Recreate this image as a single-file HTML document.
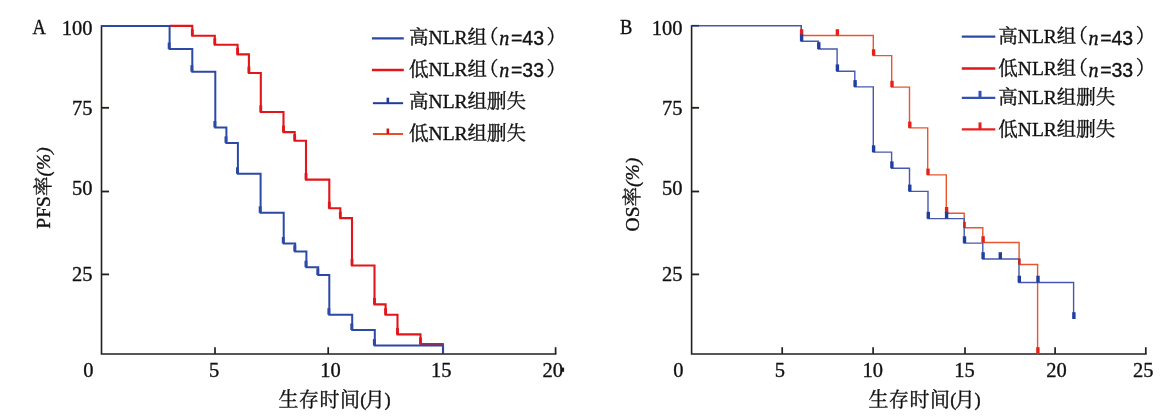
<!DOCTYPE html>
<html><head><meta charset="utf-8"><style>
html,body{margin:0;padding:0;background:#fff;width:1171px;height:417px;overflow:hidden}
svg{display:block}
text{stroke:#111;stroke-width:0.35px}
</style></head><body>
<svg width="1171" height="417" viewBox="0 0 1171 417">
<path d="M101.5,25.2 V354 H556.4" fill="none" stroke="#231f1c" stroke-width="1.6"/>
<line x1="101.5" y1="107.8" x2="109.00" y2="107.8" stroke="#231f1c" stroke-width="1.8"/>
<line x1="101.5" y1="191.5" x2="109.00" y2="191.5" stroke="#231f1c" stroke-width="1.8"/>
<line x1="101.5" y1="274.4" x2="109.00" y2="274.4" stroke="#231f1c" stroke-width="1.8"/>
<line x1="215" y1="347.2" x2="215" y2="354" stroke="#231f1c" stroke-width="1.7"/>
<line x1="328.2" y1="347.2" x2="328.2" y2="354" stroke="#231f1c" stroke-width="1.7"/>
<line x1="442.8" y1="347.2" x2="442.8" y2="354" stroke="#231f1c" stroke-width="1.7"/>
<line x1="555.6" y1="347.2" x2="555.6" y2="354" stroke="#231f1c" stroke-width="1.7"/>
<text x="92.6" y="35.1" text-anchor="end" font-family="'Liberation Serif', 'Noto Serif CJK SC', serif" font-size="20.5" fill="#111">100</text>
<text x="92.6" y="114.8" text-anchor="end" font-family="'Liberation Serif', 'Noto Serif CJK SC', serif" font-size="20.5" fill="#111">75</text>
<text x="92.6" y="195.0" text-anchor="end" font-family="'Liberation Serif', 'Noto Serif CJK SC', serif" font-size="20.5" fill="#111">50</text>
<text x="92.6" y="280.8" text-anchor="end" font-family="'Liberation Serif', 'Noto Serif CJK SC', serif" font-size="20.5" fill="#111">25</text>
<text x="88.4" y="376.6" text-anchor="middle" font-family="'Liberation Serif', 'Noto Serif CJK SC', serif" font-size="20.5" fill="#111">0</text>
<text x="214" y="376.6" text-anchor="middle" font-family="'Liberation Serif', 'Noto Serif CJK SC', serif" font-size="20.5" fill="#111">5</text>
<text x="330.6" y="376.6" text-anchor="middle" font-family="'Liberation Serif', 'Noto Serif CJK SC', serif" font-size="20.5" fill="#111">10</text>
<text x="441.2" y="376.6" text-anchor="middle" font-family="'Liberation Serif', 'Noto Serif CJK SC', serif" font-size="20.5" fill="#111">15</text>
<text x="552.7" y="376.6" text-anchor="middle" font-family="'Liberation Serif', 'Noto Serif CJK SC', serif" font-size="20.5" fill="#111">20</text>
<text transform="translate(32.4,34) scale(0.88,1)" font-family="'Liberation Serif', 'Noto Serif CJK SC', serif" font-size="21" fill="#111">A</text>
<path d="M169.6,25.9 H192.3 V35.7 H214.8 V44.7 H237.6 V54.4 H248.9 V73.0 H260.8 V112.0 H283.5 V132.1 H294.7 V140.7 H306.0 V179.6 H329.3 V208.2 H340.3 V218.1 H352.0 V265.5 H374.5 V304.4 H385.6 V314.7 H397.5 V334.4 H420.5 V344.0 H443.6" fill="none" stroke="#e2161a" stroke-width="2.1" stroke-linejoin="miter"/>
<rect x="190.90" y="29.20" width="2.8" height="6.5" fill="#e2161a"/>
<rect x="213.40" y="38.20" width="2.8" height="6.5" fill="#e2161a"/>
<rect x="236.20" y="47.90" width="2.8" height="6.5" fill="#e2161a"/>
<rect x="247.50" y="66.50" width="2.8" height="6.5" fill="#e2161a"/>
<rect x="259.40" y="105.50" width="2.8" height="6.5" fill="#e2161a"/>
<rect x="282.10" y="125.60" width="2.8" height="6.5" fill="#e2161a"/>
<rect x="293.30" y="134.20" width="2.8" height="6.5" fill="#e2161a"/>
<rect x="304.60" y="173.10" width="2.8" height="6.5" fill="#e2161a"/>
<rect x="327.90" y="201.70" width="2.8" height="6.5" fill="#e2161a"/>
<rect x="338.90" y="211.60" width="2.8" height="6.5" fill="#e2161a"/>
<rect x="350.60" y="259.00" width="2.8" height="6.5" fill="#e2161a"/>
<rect x="373.10" y="297.90" width="2.8" height="6.5" fill="#e2161a"/>
<rect x="384.20" y="308.20" width="2.8" height="6.5" fill="#e2161a"/>
<rect x="396.10" y="327.90" width="2.8" height="6.5" fill="#e2161a"/>
<rect x="419.10" y="337.50" width="2.8" height="6.5" fill="#e2161a"/>
<rect x="441.4" y="343" width="2.2" height="3.2" fill="#e2161a"/>
<path d="M101.5,25.9 H169.6 V49.0 H192.3 V71.7 H215.3 V127.5 H226.4 V142.9 H237.9 V173.8 H260.6 V212.8 H283.7 V243.5 H295.2 V251.6 H306.4 V267.2 H318.2 V275.0 H329.3 V314.7 H352.2 V330.0 H374.8 V345.6 H443.1 V353.5" fill="none" stroke="#2c49a6" stroke-width="2" stroke-linejoin="miter"/>
<rect x="167.70" y="42.50" width="2.9" height="6.5" fill="#2c49a6"/>
<rect x="190.40" y="65.20" width="2.9" height="6.5" fill="#2c49a6"/>
<rect x="213.40" y="121.00" width="2.9" height="6.5" fill="#2c49a6"/>
<rect x="224.50" y="136.40" width="2.9" height="6.5" fill="#2c49a6"/>
<rect x="236.00" y="167.30" width="2.9" height="6.5" fill="#2c49a6"/>
<rect x="258.70" y="206.30" width="2.9" height="6.5" fill="#2c49a6"/>
<rect x="281.80" y="237.00" width="2.9" height="6.5" fill="#2c49a6"/>
<rect x="293.30" y="245.10" width="2.9" height="6.5" fill="#2c49a6"/>
<rect x="304.50" y="260.70" width="2.9" height="6.5" fill="#2c49a6"/>
<rect x="316.30" y="268.50" width="2.9" height="6.5" fill="#2c49a6"/>
<rect x="327.40" y="308.20" width="2.9" height="6.5" fill="#2c49a6"/>
<rect x="350.30" y="323.50" width="2.9" height="6.5" fill="#2c49a6"/>
<rect x="372.90" y="339.10" width="2.9" height="6.5" fill="#2c49a6"/>
<rect x="561.8" y="367.6" width="2.3" height="4.2" fill="#1a1a1a"/>
<text transform="translate(49.8,188) rotate(-90)" text-anchor="middle" font-family="'Liberation Serif', 'Noto Serif CJK SC', serif" font-size="19.5" fill="#111">PFS率<tspan font-style="italic">(%)</tspan></text>
<text x="278.6" y="406.6" font-family="'Liberation Serif', 'Noto Serif CJK SC', serif" font-size="20" fill="#111"><tspan letter-spacing="0.5">生存时间</tspan><tspan font-size="18.5" dx="-0.3" dy="-0.3">(</tspan><tspan dx="-1.6" dy="0.3">月</tspan><tspan font-size="18.5" dx="-0.3" dy="-0.3">)</tspan></text>
<path d="M691.6,25.2 V354 H1146.6" fill="none" stroke="#231f1c" stroke-width="1.6"/>
<line x1="691.6" y1="107.8" x2="699.10" y2="107.8" stroke="#231f1c" stroke-width="1.8"/>
<line x1="691.6" y1="191.5" x2="699.10" y2="191.5" stroke="#231f1c" stroke-width="1.8"/>
<line x1="691.6" y1="274.4" x2="699.10" y2="274.4" stroke="#231f1c" stroke-width="1.8"/>
<line x1="782.2" y1="347.2" x2="782.2" y2="354" stroke="#231f1c" stroke-width="1.7"/>
<line x1="873.1" y1="347.2" x2="873.1" y2="354" stroke="#231f1c" stroke-width="1.7"/>
<line x1="965" y1="347.2" x2="965" y2="354" stroke="#231f1c" stroke-width="1.7"/>
<line x1="1055.1" y1="347.2" x2="1055.1" y2="354" stroke="#231f1c" stroke-width="1.7"/>
<line x1="1145.8" y1="347.2" x2="1145.8" y2="354" stroke="#231f1c" stroke-width="1.7"/>
<text x="682.6" y="35.1" text-anchor="end" font-family="'Liberation Serif', 'Noto Serif CJK SC', serif" font-size="20.5" fill="#111">100</text>
<text x="682.6" y="114.8" text-anchor="end" font-family="'Liberation Serif', 'Noto Serif CJK SC', serif" font-size="20.5" fill="#111">75</text>
<text x="682.6" y="195.0" text-anchor="end" font-family="'Liberation Serif', 'Noto Serif CJK SC', serif" font-size="20.5" fill="#111">50</text>
<text x="682.6" y="280.8" text-anchor="end" font-family="'Liberation Serif', 'Noto Serif CJK SC', serif" font-size="20.5" fill="#111">25</text>
<text x="678.3" y="376.6" text-anchor="middle" font-family="'Liberation Serif', 'Noto Serif CJK SC', serif" font-size="20.5" fill="#111">0</text>
<text x="779.9" y="376.6" text-anchor="middle" font-family="'Liberation Serif', 'Noto Serif CJK SC', serif" font-size="20.5" fill="#111">5</text>
<text x="872.8" y="376.6" text-anchor="middle" font-family="'Liberation Serif', 'Noto Serif CJK SC', serif" font-size="20.5" fill="#111">10</text>
<text x="964.5" y="376.6" text-anchor="middle" font-family="'Liberation Serif', 'Noto Serif CJK SC', serif" font-size="20.5" fill="#111">15</text>
<text x="1056.5" y="376.6" text-anchor="middle" font-family="'Liberation Serif', 'Noto Serif CJK SC', serif" font-size="20.5" fill="#111">20</text>
<text x="1143.2" y="376.6" text-anchor="middle" font-family="'Liberation Serif', 'Noto Serif CJK SC', serif" font-size="20.5" fill="#111">25</text>
<text transform="translate(620,34) scale(0.88,1)" font-family="'Liberation Serif', 'Noto Serif CJK SC', serif" font-size="21" fill="#111">B</text>
<path d="M801.3,35.5 H873.3 V55.6 H891.7 V87.1 H909.5 V127.9 H927.7 V174.9 H946.3 V213.3 H964.2 V227.8 H982.8 V242.5 H1019.1 V264.5 H1037.6 V353.5" fill="none" stroke="#e8552f" stroke-width="1.4"/>
<path d="M801.3,25.9 V35.5" fill="none" stroke="#e8552f" stroke-width="1.4"/>
<path d="M691.6,25.7 H801.3 V41.2 H818.5 V49.0 H837.1 V71.2 H854.8 V86.9 H873.3 V152.1 H891.6 V168.2 H909.5 V191.4 H928.0 V218.6 H964.2 V243.1 H982.8 V259.0 H1019.0 V282.5 H1073.6 V319.0" fill="none" stroke="#4858ad" stroke-width="1.4"/>
<path d="M691.6,25.7 H699" fill="none" stroke="#1a2a70" stroke-width="1.6"/>
<rect x="799.90" y="29.20" width="3.4" height="6.3" fill="#e6201a"/>
<rect x="835.70" y="29.20" width="3.4" height="6.3" fill="#e6201a"/>
<rect x="871.90" y="49.30" width="3.4" height="6.3" fill="#e6201a"/>
<rect x="890.30" y="80.80" width="3.4" height="6.3" fill="#e6201a"/>
<rect x="908.10" y="121.60" width="3.4" height="6.3" fill="#e6201a"/>
<rect x="926.30" y="168.60" width="3.4" height="6.3" fill="#e6201a"/>
<rect x="944.90" y="207.00" width="3.4" height="6.3" fill="#e6201a"/>
<rect x="963.20" y="221.80" width="2.6" height="6.0" fill="#c8281c"/>
<rect x="981.40" y="236.20" width="3.4" height="6.3" fill="#e6201a"/>
<rect x="1018.10" y="258.50" width="2.6" height="6.0" fill="#c8281c"/>
<rect x="1036.20" y="347.20" width="3.4" height="6.3" fill="#e6201a"/>
<rect x="799.90" y="34.40" width="3.4" height="6.8" fill="#1f3f9f"/>
<rect x="817.10" y="42.20" width="3.4" height="6.8" fill="#1f3f9f"/>
<rect x="835.70" y="64.40" width="3.4" height="6.8" fill="#1f3f9f"/>
<rect x="853.40" y="80.10" width="3.4" height="6.8" fill="#1f3f9f"/>
<rect x="871.90" y="145.30" width="3.4" height="6.8" fill="#1f3f9f"/>
<rect x="890.20" y="161.40" width="3.4" height="6.8" fill="#1f3f9f"/>
<rect x="908.10" y="184.60" width="3.4" height="6.8" fill="#1f3f9f"/>
<rect x="926.60" y="211.80" width="3.4" height="6.8" fill="#1f3f9f"/>
<rect x="944.90" y="211.80" width="3.4" height="6.8" fill="#1f3f9f"/>
<rect x="962.80" y="236.30" width="3.4" height="6.8" fill="#1f3f9f"/>
<rect x="981.40" y="252.20" width="3.4" height="6.8" fill="#1f3f9f"/>
<rect x="998.60" y="252.20" width="3.4" height="6.8" fill="#1f3f9f"/>
<rect x="1017.60" y="275.70" width="3.4" height="6.8" fill="#1f3f9f"/>
<rect x="1036.30" y="275.70" width="3.4" height="6.8" fill="#1f3f9f"/>
<rect x="1072.20" y="312.20" width="3.4" height="6.8" fill="#1f3f9f"/>
<text transform="translate(638.5,194.6) rotate(-90)" text-anchor="middle" font-family="'Liberation Serif', 'Noto Serif CJK SC', serif" font-size="19.5" fill="#111">OS率<tspan font-style="italic">(%)</tspan></text>
<text x="868.6" y="406.6" font-family="'Liberation Serif', 'Noto Serif CJK SC', serif" font-size="20" fill="#111"><tspan letter-spacing="0.5">生存时间</tspan><tspan font-size="18.5" dx="-0.3" dy="-0.3">(</tspan><tspan dx="-1.6" dy="0.3">月</tspan><tspan font-size="18.5" dx="-0.3" dy="-0.3">)</tspan></text>
<line x1="371.9" y1="38.3" x2="403.8" y2="38.3" stroke="#2c49a6" stroke-width="2.2"/>
<text x="409.1" y="43.5" font-family="'Liberation Serif', 'Noto Serif CJK SC', serif" font-size="19.5" fill="#111">高NLR组<tspan dx="-8">（</tspan><tspan font-style="italic" font-size="20" dx="0.7" dy="1.5">n</tspan><tspan font-family="'Liberation Sans', sans-serif" dx="1.6">=43</tspan><tspan dx="2.5" dy="-1.5">）</tspan></text>
<line x1="371.9" y1="70.0" x2="403.8" y2="70.0" stroke="#e2161a" stroke-width="2.4"/>
<text x="409.1" y="75.8" font-family="'Liberation Serif', 'Noto Serif CJK SC', serif" font-size="19.5" fill="#111">低NLR组<tspan dx="-8">（</tspan><tspan font-style="italic" font-size="20" dx="0.7" dy="1.5">n</tspan><tspan font-family="'Liberation Sans', sans-serif" dx="1.6">=33</tspan><tspan dx="2.5" dy="-1.5">）</tspan></text>
<line x1="372.9" y1="103.2" x2="403.1" y2="103.2" stroke="#1f3c98" stroke-width="2.0"/>
<line x1="387.85" y1="97.70" x2="387.85" y2="103.2" stroke="#1f3c98" stroke-width="2.6"/>
<text x="409.1" y="108.2" font-family="'Liberation Serif', 'Noto Serif CJK SC', serif" font-size="19.5" fill="#111">高NLR组删失</text>
<line x1="372.9" y1="134.0" x2="403.1" y2="134.0" stroke="#e8502c" stroke-width="2.0"/>
<line x1="387.85" y1="128.50" x2="387.85" y2="134.0" stroke="#e01010" stroke-width="2.6"/>
<text x="409.1" y="140.4" font-family="'Liberation Serif', 'Noto Serif CJK SC', serif" font-size="19.5" fill="#111">低NLR组删失</text>
<line x1="961.8" y1="36.6" x2="995.3" y2="36.6" stroke="#2c49a6" stroke-width="2.2"/>
<text x="998.3" y="43.0" font-family="'Liberation Serif', 'Noto Serif CJK SC', serif" font-size="19.5" fill="#111">高NLR组<tspan dx="-8">（</tspan><tspan font-style="italic" font-size="20" dx="0.7" dy="1.5">n</tspan><tspan font-family="'Liberation Sans', sans-serif" dx="1.6">=43</tspan><tspan dx="2.5" dy="-1.5">）</tspan></text>
<line x1="961.8" y1="68.5" x2="995.3" y2="68.5" stroke="#e2161a" stroke-width="2.4"/>
<text x="998.3" y="75.0" font-family="'Liberation Serif', 'Noto Serif CJK SC', serif" font-size="19.5" fill="#111">低NLR组<tspan dx="-8">（</tspan><tspan font-style="italic" font-size="20" dx="0.7" dy="1.5">n</tspan><tspan font-family="'Liberation Sans', sans-serif" dx="1.6">=33</tspan><tspan dx="2.5" dy="-1.5">）</tspan></text>
<line x1="961.8" y1="97.8" x2="995.3" y2="97.8" stroke="#3350b4" stroke-width="2.2"/>
<line x1="980.00" y1="90.80" x2="980.00" y2="97.8" stroke="#3350b4" stroke-width="3"/>
<text x="998.3" y="103.8" font-family="'Liberation Serif', 'Noto Serif CJK SC', serif" font-size="19.5" fill="#111">高NLR组删失</text>
<line x1="961.8" y1="129.4" x2="995.3" y2="129.4" stroke="#e82020" stroke-width="2.4"/>
<line x1="980.00" y1="122.40" x2="980.00" y2="129.4" stroke="#e82020" stroke-width="3"/>
<text x="998.3" y="135.9" font-family="'Liberation Serif', 'Noto Serif CJK SC', serif" font-size="19.5" fill="#111">低NLR组删失</text>
</svg>
</body></html>
